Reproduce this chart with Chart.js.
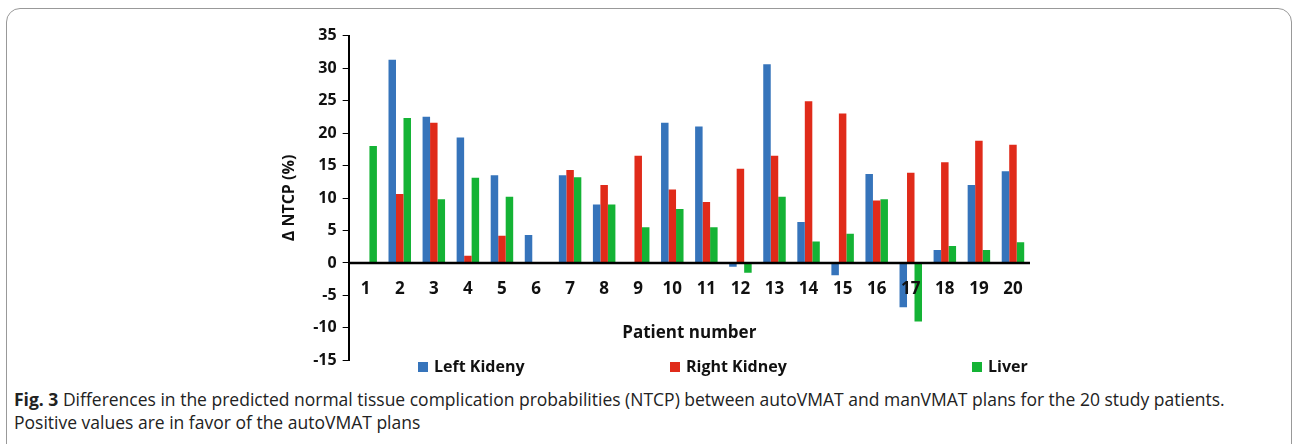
<!DOCTYPE html>
<html>
<head>
<meta charset="utf-8">
<script src="https://cdn.jsdelivr.net/npm/chart.js@4"></script>
<style>
  body { margin: 0; background: #fff; font-family: "Open Sans", sans-serif; }
  #frame { position: absolute; left: 6px; top: 8px; width: 1284px; height: 460px; border: 1px solid #999; border-radius: 14px; }
  #wrap { position: absolute; left: 276px; top: 20px; width: 764px; height: 356px; }
  #legend { position: absolute; top: 355px; left: 0; width: 1292px; font: bold 16px "Open Sans"; color: #111; }
  #legend span { position: absolute; white-space: nowrap; }
  #legend i { display: inline-block; width: 10px; height: 10px; margin-right: 6px; }
  #cap { position: absolute; left: 14px; top: 388px; width: 1276px; font-size: 17.5px; line-height: 23px; color: #222; }
</style>
</head>
<body>
<div id="frame"></div>
<div id="wrap"><canvas id="c"></canvas></div>
<div id="legend"></div>
<div id="cap"><b>Fig. 3</b> Differences in the predicted normal tissue complication probabilities (NTCP) between autoVMAT and manVMAT plans for the 20 study patients. Positive values are in favor of the autoVMAT plans</div>
<script>
const patients = ["1","2","3","4","5","6","7","8","9","10","11","12","13","14","15","16","17","18","19","20"];
const leftKidney = [0, 31.3, 22.5, 19.3, 13.5, 4.3, 13.5, 9, 0, 21.6, 21, -0.6, 30.6, 6.3, -1.9, 13.7, -6.8, 2, 12, 14.1];
const rightKidney = [0, 10.6, 21.6, 1.1, 4.2, 0, 14.3, 12, 16.5, 11.3, 9.4, 14.5, 16.5, 24.9, 23, 9.6, 13.9, 15.5, 18.8, 18.2];
const liver = [18, 22.3, 9.8, 13.1, 10.2, 0, 13.2, 9, 5.5, 8.3, 5.5, -1.5, 10.2, 3.3, 4.5, 9.8, -9, 2.6, 2, 3.2];
const seriesNames = ["Left Kideny", "Right Kidney", "Liver"];
const seriesColors = ["#3674bb", "#e02b1a", "#14b335"];
const legendLeft = [418, 670, 972];

const font = { family: "Open Sans", weight: "bold", size: 16 };

// category labels and axis title sit under the zero line, like the original
const zeroLabels = {
  id: "zeroLabels",
  afterDraw(chart) {
    const { ctx, scales: { x, y } } = chart;
    const y0 = y.getPixelForValue(0);
    ctx.save();
    ctx.strokeStyle = "#000";
    ctx.lineWidth = 2.5;
    ctx.beginPath();
    ctx.moveTo(x.left, y0);
    ctx.lineTo(x.right, y0);
    ctx.stroke();
    ctx.fillStyle = "#111";
    ctx.font = "bold 17px 'Open Sans'";
    ctx.textAlign = "center";
    ctx.textBaseline = "middle";
    patients.forEach((p, i) => ctx.fillText(p, x.getPixelForValue(i), y0 + 26));
    ctx.fillText("Patient number", (x.left + x.right) / 2, y.getPixelForValue(-10.8));
    ctx.restore();
  }
};

new Chart(document.getElementById("c"), {
  type: "bar",
  data: {
    labels: patients,
    datasets: seriesNames.map((n, i) => ({
      label: n,
      data: [leftKidney, rightKidney, liver][i],
      backgroundColor: seriesColors[i]
    }))
  },
  options: {
    responsive: true,
    maintainAspectRatio: false,
    animation: false,
    categoryPercentage: 0.66,
    barPercentage: 1,
    layout: { padding: { right: 10, top: 6, bottom: 6 } },
    plugins: { tooltip: { enabled: false }, legend: { display: false } },
    scales: {
      x: { grid: { display: false }, border: { display: false }, ticks: { display: false } },
      y: {
        min: -15, max: 35,
        ticks: { stepSize: 5, autoSkip: false, color: "#111", font: font, padding: 6 },
        grid: { drawOnChartArea: false, color: "#000", tickLength: 6 },
        border: { color: "#000", width: 2 },
        title: { display: true, text: "Δ NTCP (%)", color: "#111", font: font, padding: { bottom: 8 } }
      }
    }
  },
  plugins: [zeroLabels]
});

const lg = document.getElementById("legend");
seriesNames.forEach((n, i) => {
  const s = document.createElement("span");
  s.style.left = legendLeft[i] + "px";
  s.innerHTML = '<i style="background:' + seriesColors[i] + '"></i>' + n;
  lg.appendChild(s);
});
</script>
</body>
</html>
